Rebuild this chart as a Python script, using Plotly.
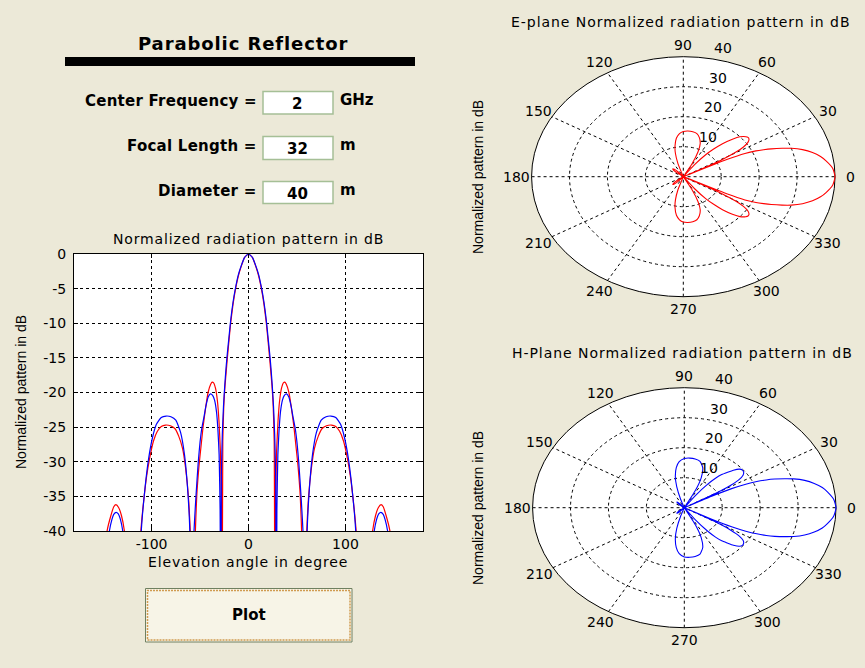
import numpy as np
import plotly.graph_objects as go

# ---------------- data ----------------
# E-plane (red) normalized pattern, dB vs elevation angle (deg)
ANGLE_E = [-180, -155, -150, -145.9, -142, -139, -136.7, -134, -131, -128, -122, -115,
           -111, -108, -105, -102, -98, -94, -90, -85.5, -80.5, -76, -72, -68, -65, -62, -59, -56.5,
           -55, -53.4, -51, -49, -46.8, -44, -41.7, -39, -37.5, -36, -34, -32, -30.5, -29, -28, -27.3,
           -26.5, -25.5, -24.2, -23, -21.8, -20, -18.4, -16, -13.3, -10.5, -8, -4,
           0, 4, 8, 10.5, 13.3, 16, 18.4, 20, 21.8, 23, 24.2, 25.5, 26.5, 27.3,
           28, 29, 30.5, 32, 34, 36, 37.5, 39, 41.7, 44, 46.8, 49, 51, 53.4, 55, 56.5,
           59, 62, 65, 68, 72, 76, 80.5, 85.5, 90, 94, 98, 102, 105, 108, 111, 115,
           122, 128, 131, 134, 136.7, 139, 142, 145.9, 150, 155, 180]
DB_E = [-60, -60, -46, -40, -37.8, -36.5, -36.2, -36.6, -37.8, -40, -50, -60,
        -40, -35.5, -32, -29.5, -27, -25.6, -24.9, -24.7, -24.8, -25.2, -26.3, -28.1, -30.8, -35, -44, -60,
        -41, -35, -30.5, -27.8, -24.9, -22, -20, -18.8, -18.5, -18.6, -19.4, -21.3, -24, -28.5, -36, -60,
        -27, -22, -19, -17, -15, -12.3, -10, -7.3, -5, -3.2, -2, -0.5,
        0, -0.5, -2, -3.2, -5, -7.3, -10, -12.3, -15, -17, -19, -22, -27, -60,
        -36, -28.5, -24, -21.3, -19.4, -18.6, -18.5, -18.8, -20, -22, -24.9, -27.8, -30.5, -35, -41, -60,
        -44, -35, -30.8, -28.1, -26.3, -25.2, -24.8, -24.7, -24.9, -25.6, -27, -29.5, -32, -35.5, -40, -60,
        -50, -40, -37.8, -36.6, -36.2, -36.5, -37.8, -40, -46, -60, -60]

# H-plane (blue) normalized pattern, dB vs elevation angle (deg)
ANGLE_H = [-180, -154, -148, -143.5, -141, -139, -136.5, -134.5, -132, -129.7, -122, -113.5,
           -111, -109, -106, -103, -99, -95, -90, -85, -80, -75, -70, -66, -63, -60.5, -58.5,
           -56.5, -54.2, -51.8, -50, -48.2, -46, -44, -41.5, -39.3, -37, -35, -33, -31.5, -30.3, -29.3, -28.6,
           -28, -27, -25.8, -24.5, -23.2, -21.8, -20, -18.4, -16, -13.3, -10.5, -8, -4,
           0, 4, 8, 10.5, 13.3, 16, 18.4, 20, 21.8, 23.2, 24.5, 25.8, 27, 28, 28.6,
           29.3, 30.3, 31.5, 33, 35, 37, 39.3, 41.5, 44, 46, 48.2, 50, 51.8, 54.2, 56.5, 58.5,
           60.5, 63, 66, 70, 75, 80, 85, 90, 95, 99, 103, 106, 109, 111, 113.5,
           122, 129.7, 132, 134.5, 136.5, 139, 141, 143.5, 148, 154, 180]
DB_H = [-60, -60, -46, -40, -38.4, -37.6, -37.3, -37.5, -38.4, -40, -50, -60,
        -41, -37, -32.8, -29.5, -26.5, -24.6, -23.6, -23.4, -23.5, -24, -25.8, -29, -33.5, -40, -60,
        -41, -35, -30, -27.2, -25.2, -23.6, -22, -20.6, -20.2, -20.4, -21.1, -22.8, -25.5, -29, -37, -60,
        -32, -26, -22, -19, -16.5, -14.3, -11.8, -9.6, -7, -4.8, -3, -1.9, -0.5,
        0, -0.5, -1.9, -3, -4.8, -7, -9.6, -11.8, -14.3, -16.5, -19, -22, -26, -32, -60,
        -37, -29, -25.5, -22.8, -21.1, -20.4, -20.2, -20.6, -22, -23.6, -25.2, -27.2, -30, -35, -41, -60,
        -40, -33.5, -29, -25.8, -24, -23.5, -23.4, -23.6, -24.6, -26.5, -29.5, -32.8, -37, -41, -60,
        -50, -40, -38.4, -37.5, -37.3, -37.6, -38.4, -40, -46, -60, -60]

DB_FLOOR = -40                      # bottom of dB scale = centre of the polar plots
X_TICKS = [-100, 0, 100]
X_TICK_LABELS = ["-100", "0", "100"]
Y_TICKS = [0, -5, -10, -15, -20, -25, -30, -35, -40]
Y_TICK_LABELS = ["0", "-5", "-10", "-15", "-20", "-25", "-30", "-35", "-40"]
POLAR_SPOKES = [0, 30, 60, 90, 120, 150, 180, 210, 240, 270, 300, 330]
POLAR_RINGS = [10, 20, 30, 40]

FREQ_GHZ = "2"
FOCAL_M = "32"
DIAM_M = "40"

# ---------------- helpers ----------------
W, H = 865, 668
BG = "#ECE9D8"
FONT = "DejaVu Sans"
FONT_V = "Liberation Sans"


def fx(p):
    return p / W


def fy(p):
    return 1 - p / H


def polar_xy(angles, dbs):
    a = np.radians(np.asarray(angles, float))
    r = np.maximum(np.asarray(dbs, float) - DB_FLOOR, 0)
    return r * np.cos(a), r * np.sin(a)


def ls(text, px):
    return f'<span style="letter-spacing:{px}px">{text}</span>'


def note(x, y, text, size=14, family=FONT, xanchor="center", yanchor="middle", **kw):
    d = dict(xref="paper", yref="paper", x=fx(x), y=fy(y), text=text, showarrow=False,
             xanchor=xanchor, yanchor=yanchor, font=dict(family=family, size=size, color="black"))
    d.update(kw)
    return d


fig = go.Figure()

# rectangular plot
fig.add_trace(go.Scatter(x=ANGLE_E, y=DB_E, mode="lines", xaxis="x", yaxis="y",
                         line=dict(color="#FF0000", width=1.2, shape="spline", smoothing=0.5),
                         hoverinfo="skip", showlegend=False))
fig.add_trace(go.Scatter(x=ANGLE_H, y=DB_H, mode="lines", xaxis="x", yaxis="y",
                         line=dict(color="#0000FF", width=1.2, shape="spline", smoothing=0.5),
                         hoverinfo="skip", showlegend=False))

# polar plots (E-plane red, H-plane blue)
ex, ey = polar_xy(ANGLE_E, DB_E)
hx, hy = polar_xy(ANGLE_H, DB_H)
fig.add_trace(go.Scatter(x=ex, y=ey, mode="lines", xaxis="x2", yaxis="y2",
                         line=dict(color="#FF0000", width=1.1, shape="spline", smoothing=0.5),
                         hoverinfo="skip", showlegend=False))
fig.add_trace(go.Scatter(x=hx, y=hy, mode="lines", xaxis="x3", yaxis="y3",
                         line=dict(color="#0000FF", width=1.1, shape="spline", smoothing=0.5),
                         hoverinfo="skip", showlegend=False))

shapes = []
annotations = []

# white background of rectangular axes
shapes.append(dict(type="rect", xref="paper", yref="paper", x0=fx(74), x1=fx(423),
                   y0=fy(531), y1=fy(254), fillcolor="white", line=dict(width=0), layer="below"))

# polar grids
RMAX = POLAR_RINGS[-1]
for xr, yr in (("x2", "y2"), ("x3", "y3")):
    shapes.append(dict(type="circle", xref=xr, yref=yr, x0=-RMAX, x1=RMAX, y0=-RMAX, y1=RMAX,
                       fillcolor="white", line=dict(color="black", width=1), layer="below"))
    for rr in POLAR_RINGS[:-1]:
        shapes.append(dict(type="circle", xref=xr, yref=yr, x0=-rr, x1=rr, y0=-rr, y1=rr,
                           line=dict(color="black", width=1, dash="3px,3px"), layer="below"))
    for ang in POLAR_SPOKES[:6]:
        c, s = np.cos(np.radians(ang)), np.sin(np.radians(ang))
        shapes.append(dict(type="line", xref=xr, yref=yr, x0=-RMAX * c, y0=-RMAX * s,
                           x1=RMAX * c, y1=RMAX * s,
                           line=dict(color="black", width=1, dash="3px,3px"), layer="below"))
    for ang in POLAR_SPOKES:
        c, s = np.cos(np.radians(ang)), np.sin(np.radians(ang))
        annotations.append(dict(xref=xr, yref=yr, x=1.1 * RMAX * c, y=1.1 * RMAX * s,
                                text=str(ang), showarrow=False, xanchor="center", yanchor="middle",
                                font=dict(family=FONT, size=14, color="black")))
    c82, s82 = np.cos(np.radians(82)), np.sin(np.radians(82))
    for rr in POLAR_RINGS:
        annotations.append(dict(xref=xr, yref=yr, x=rr * c82, y=rr * s82, text=str(rr),
                                showarrow=False, xanchor="left", yanchor="bottom",
                                xshift=8, yshift=0,
                                font=dict(family=FONT, size=14, color="black")))

# titles / labels of plots
annotations += [
    note(248, 239, ls("Normalized radiation pattern in dB", 0.85)),
    note(248, 562, ls("Elevation angle in degree", 0.85)),
    note(21, 392, "Normalized pattern in dB", family=FONT_V, textangle=-90),
    note(681, 22, ls("E-plane Normalized radiation pattern in dB", 0.95)),
    note(478, 177, "Normalized pattern in dB", family=FONT_V, textangle=-90),
    note(682, 353, ls("H-Plane Normalized radiation pattern in dB", 0.95)),
    note(478, 508, "Normalized pattern in dB", family=FONT_V, textangle=-90),
]

# ---------------- GUI panel ----------------
annotations.append(note(243, 44, ls("<b>Parabolic Reflector</b>", 0.9), size=18))
shapes.append(dict(type="rect", xref="paper", yref="paper", x0=fx(65), x1=fx(415), y0=fy(66), y1=fy(57),
                   fillcolor="black", line=dict(width=0)))

rows = [("Center Frequency =", FREQ_GHZ, "GHz", 101, 91.5, 114),
        ("Focal Length =", FOCAL_M, "m", 146, 136.5, 159.5),
        ("Diameter =", DIAM_M, "m", 191, 181.5, 203.5)]
for label, val, unit, yc, yb0, yb1 in rows:
    annotations.append(note(259, yc, ls(f"<b>{label}</b>", 0.25), size=15, xanchor="right"))
    shapes.append(dict(type="rect", xref="paper", yref="paper", x0=fx(263), x1=fx(333), y0=fy(yb1), y1=fy(yb0),
                       fillcolor="white", line=dict(color="#A5BF96", width=1.5)))
    annotations.append(note(297, (yb0 + yb1) / 2 + 1, f"<b>{val}</b>", size=15))
    annotations.append(note(338, yc - 1, f"<b>{unit}</b>", size=15, xanchor="left"))

# Plot button
shapes.append(dict(type="rect", xref="paper", yref="paper", x0=fx(145.5), x1=fx(352), y0=fy(642), y1=fy(588.5),
                   fillcolor="#F7F4E7", line=dict(color="#6F8060", width=1)))
shapes.append(dict(type="rect", xref="paper", yref="paper", x0=fx(147.5), x1=fx(350), y0=fy(640), y1=fy(590.5),
                   fillcolor="rgba(0,0,0,0)", line=dict(color="#D09A50", width=1.5, dash="2px,1px")))
annotations.append(note(249, 615, "<b>Plot</b>", size=15))

axis_font = dict(family=FONT, size=14, color="black")
fig.update_layout(
    width=W, height=H, margin=dict(l=0, r=0, t=0, b=0, pad=0, autoexpand=False),
    paper_bgcolor=BG, plot_bgcolor="rgba(0,0,0,0)",
    showlegend=False,
    xaxis=dict(domain=[fx(74), fx(423)], range=[-180, 180], anchor="y",
               tickvals=X_TICKS, ticktext=X_TICK_LABELS, ticks="inside", ticklen=4, tickcolor="black",
               showline=True, mirror="ticks", linecolor="black", linewidth=1,
               showgrid=True, gridcolor="black", gridwidth=1, griddash="3px,3px",
               zeroline=False, tickfont=axis_font, fixedrange=True),
    yaxis=dict(domain=[fy(531), fy(254)], range=[-40, 0], anchor="x",
               tickvals=Y_TICKS, ticktext=Y_TICK_LABELS, ticks="inside", ticklen=4, tickcolor="black",
               showline=True, mirror="ticks", linecolor="black", linewidth=1,
               showgrid=True, gridcolor="black", gridwidth=1, griddash="3px,3px",
               zeroline=False, tickfont=axis_font, fixedrange=True, ticklabelstandoff=4),
    xaxis2=dict(domain=[fx(516.4), fx(850.2)], range=[-44, 44], anchor="y2", visible=False, fixedrange=True),
    yaxis2=dict(domain=[fy(308.7), fy(44.7)], range=[-44, 44], anchor="x2", visible=False, fixedrange=True),
    xaxis3=dict(domain=[fx(517.4), fx(851.2)], range=[-44, 44], anchor="y3", visible=False, fixedrange=True),
    yaxis3=dict(domain=[fy(639.7), fy(375.7)], range=[-44, 44], anchor="x3", visible=False, fixedrange=True),
    shapes=shapes, annotations=annotations,
)

fig.write_html("out.html", config={"responsive": False, "displayModeBar": False},
               post_script="document.body.style.margin='0';document.body.style.overflow='hidden';")
